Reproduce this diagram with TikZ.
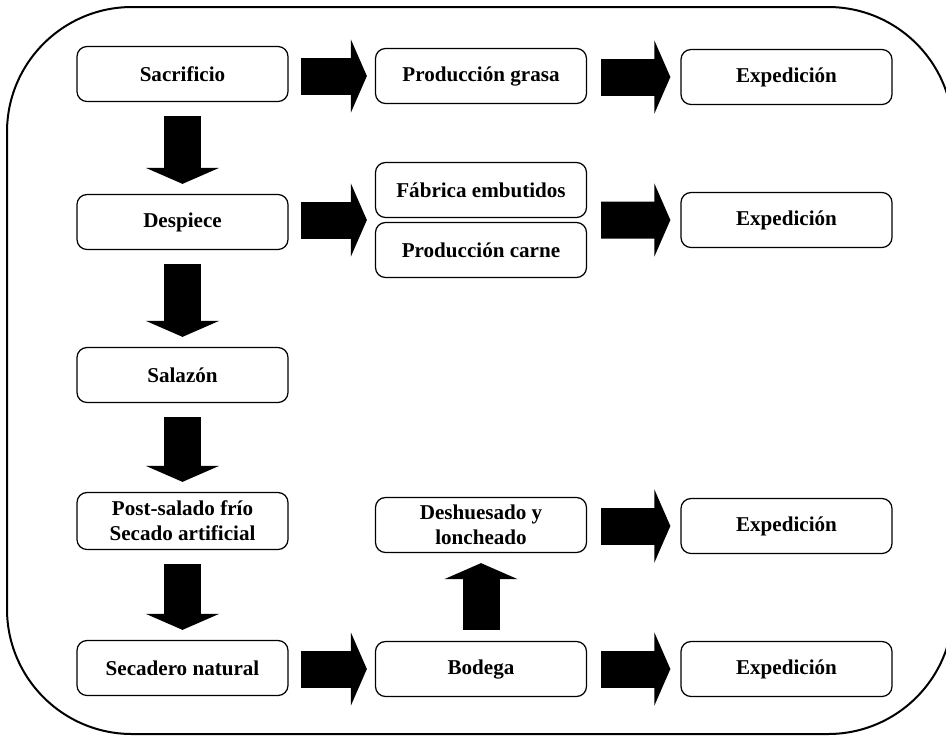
\documentclass[tikz,border=0pt]{standalone}
\usepackage{fontspec}
\setmainfont{Liberation Serif}
\usetikzlibrary{arrows.meta,calc}

\begin{document}
\begin{tikzpicture}[x=0.2mm,y=-0.2mm,
  paso/.style={draw, line width=0.25mm, rounded corners=2mm,
    minimum width=42.2mm, minimum height=11mm, inner sep=1pt,
    align=center, font=\fontsize{12}{14.2}\selectfont\bfseries},
  flecha/.style={line width=7.4mm, shorten <=2.8mm, shorten >=2mm,
    -{Triangle[width=14.6mm,length=3.2mm,line width=1pt]}}]
\useasboundingbox (0,0) rectangle (946,745);
\clip (0,0) rectangle (946,745);

% frame
  \draw[line width=0.4mm, rounded corners=25mm] (7,7) rectangle (953,734);

% main line
  \node[paso] (sacr) at (182.5,74) {Sacrificio};
  \node[paso] (desp) at (182.5,222) {Despiece};
  \node[paso] (sala) at (182.5,375) {Salazón};
  \node[paso, minimum height=11.4mm] (post) at (182.5,521) {Post-salado frío\\Secado artificial};
  \node[paso] (seca) at (182.5,668) {Secadero natural};

% second column
  \node[paso] (gras) at (481,76) {Producción grasa};
  \node[paso] (fabr) at (481,190) {Fábrica embutidos};
  \node[paso] (carn) at (481,250) {Producción carne};
  \node[paso] (desh) at (481,525) {Deshuesado y\\loncheado};
  \node[paso] (bode) at (481,669) {Bodega};
  \coordinate (par) at ($(fabr.south)!0.5!(carn.north)$);

% expedition
  \node[paso] (exp1) at (786.5,77) {Expedición};
  \node[paso] (exp2) at (786.5,220) {Expedición};
  \node[paso] (exp4) at (786.5,526) {Expedición};
  \node[paso] (exp5) at (786.5,669) {Expedición};

% arrows down
  \draw[flecha] (sacr.south) -- (desp.north);
  \draw[flecha] (desp.south) -- (sala.north);
  \draw[flecha] (sala.south) -- (post.north);
  \draw[flecha] (post.south) -- (seca.north);
  \draw[flecha, shorten <=2.2mm] (bode.north) -- (desh.south);

% arrows right
  \draw[flecha, shorten <=2.4mm, shorten >=1.6mm] (sacr.east |- gras) -- (gras.west);
  \draw[flecha] (gras.east |- exp1) -- (exp1.west);
  \draw[flecha, shorten <=2.4mm, shorten >=1.6mm] (desp.east |- par) -- (par -| fabr.west);
  \draw[flecha] (par -| fabr.east) -- (exp2.west);
  \draw[flecha] (desh.east |- exp4) -- (exp4.west);
  \draw[flecha, shorten <=2.4mm, shorten >=1.6mm] (seca.east |- bode) -- (bode.west);
  \draw[flecha] (bode.east |- exp5) -- (exp5.west);

\end{tikzpicture}
\end{document}
